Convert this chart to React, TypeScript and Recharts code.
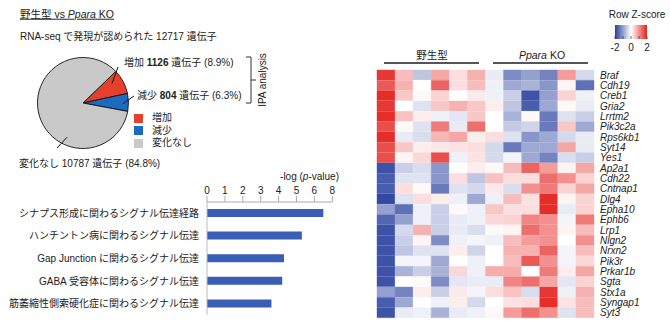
import React from "react";
import { BarChart, Bar, XAxis, YAxis, PieChart, Pie, Cell } from "recharts";

const FONT = '"Liberation Sans", Arial, "Noto Sans CJK JP", sans-serif';
const INK = "#222";

// pie: genes detected by RNA-seq
const pieLabels = ["増加", "減少", "変化なし"];
const pieCounts = [1126, 804, 10787];
const piePercents = ["8.9%", "6.3%", "84.8%"];
const pieColors = ["#e6402c", "#1d6bbf", "#c9c9c9"];

// bars: IPA pathways
const pathways = [
  "シナプス形成に関わるシグナル伝達経路",
  "ハンチントン病に関わるシグナル伝達",
  "Gap Junction に関わるシグナル伝達",
  "GABA 受容体に関わるシグナル伝達",
  "筋萎縮性側索硬化症に関わるシグナル伝達",
];
const pathwayLogP = [6.5, 5.3, 4.3, 4.2, 3.6];
const logPTicks = [0, 1, 2, 3, 4, 5, 6, 7];
const logPTickLabels = ["0", "1", "2", "3", "4", "5", "6", "8"];

// heatmap: row z-scores, 6 wild-type + 6 Ppara KO samples
const genes = [
  "Braf", "Cdh19", "Creb1", "Gria2", "Lrrtm2", "Pik3c2a", "Rps6kb1", "Syt14", "Yes1",
  "Ap2a1", "Cdh22", "Cntnap1", "Dlg4", "Epha10", "Ephb6", "Lrp1", "Nlgn2", "Nrxn2",
  "Pik3r", "Prkar1b", "Sgta", "Stx1a", "Syngap1", "Syt3",
];
const zScores: number[][] = [
  [1.8, 0.6, -0.6, 0.8, 0.3, 0.7, -0.2, -1.2, -1.0, -1.3, 0.9, -0.4],
  [1.5, 0.7, 0.0, 1.4, 0.3, 0.6, -0.15, -0.9, -0.8, -1.1, 0.1, -1.5],
  [1.9, 0.5, 0.05, 0.4, 0.0, 0.2, -0.15, -0.5, -1.8, -1.0, 0.4, -0.15],
  [1.8, 0.0, -0.3, 0.5, 0.7, 0.5, 0.15, -0.6, -1.7, -0.9, 0.05, -0.2],
  [1.9, 0.55, 0.15, -0.15, -0.25, 0.5, 0.0, -0.8, 0.05, -1.4, -0.3, -0.5],
  [1.6, 0.05, -0.3, 1.2, -0.2, 1.3, 0.0, -0.55, -0.45, -1.4, 0.5, -0.9],
  [1.9, -0.2, -0.35, 0.65, 0.8, 0.15, 0.3, -0.3, -1.1, -0.9, -0.4, -0.2],
  [1.6, 0.5, 0.15, 0.2, 0.25, 0.3, -0.4, -1.4, -0.9, -0.9, 0.8, -0.2],
  [1.6, 0.1, 0.35, 1.6, -0.15, 0.25, -0.4, -0.1, -0.9, -1.3, -0.35, -0.5],
  [-1.8, -0.5, -0.35, -1.1, 0.0, 0.15, 0.05, 0.6, 1.4, 0.9, 0.1, 0.8],
  [-1.7, -0.3, -0.3, -1.1, 0.3, -0.6, 0.55, 0.3, 0.3, 1.3, 1.0, 0.4],
  [-1.7, 0.3, 0.05, -1.4, -0.3, -0.4, 0.2, -0.35, 1.0, 1.2, 0.4, 0.8],
  [-1.9, -0.3, 0.3, 0.15, -0.15, -0.9, -0.15, 0.6, 0.25, 1.9, 0.1, 0.4],
  [-1.0, -1.5, -0.15, -0.5, 0.05, -0.15, 0.5, 0.3, 0.3, 1.9, -0.2, 0.4],
  [-1.6, -1.0, -0.15, -0.5, -0.2, -0.15, 0.35, 0.4, 1.1, 1.0, -0.1, 1.2],
  [-1.8, -0.4, 0.7, -0.5, -0.2, -0.35, 0.05, 0.1, 1.3, 1.0, 0.1, 0.6],
  [-1.8, -0.5, 0.1, -1.2, -0.15, -0.1, -0.15, 0.6, 0.9, 1.0, 0.0, 1.0],
  [-1.8, -0.6, -0.3, -0.3, 0.15, -0.45, 0.0, 0.7, 0.7, 1.4, -0.1, 0.6],
  [-1.8, -0.1, -0.1, -0.9, 0.0, -0.15, 0.0, 0.6, 1.5, 1.0, -0.1, 0.35],
  [-1.8, -0.8, -0.5, -0.8, 0.35, -0.15, 0.75, 0.75, 0.0, 1.2, 0.15, 0.8],
  [-1.8, 0.0, 0.05, -1.2, -0.25, -0.2, -0.2, 1.1, 1.3, 0.8, -0.25, 0.4],
  [-1.0, -1.3, 0.15, -0.5, 0.2, -0.1, 0.3, 0.55, -0.35, 1.8, -0.15, 0.7],
  [-1.7, -0.9, 0.0, -0.15, 0.15, -0.4, 0.0, 0.25, 0.3, 1.9, 0.25, 0.6],
  [-1.8, -0.2, -0.15, -0.8, -0.2, -0.15, 0.05, 0.9, 1.3, 1.0, -0.3, 0.6],
];
const sampleGroups = ["野生型", "Ppara KO"];
const zLegendTicks = ["-2", "0", "2"];

const Z_NEG = [40, 64, 158];
const Z_POS = [228, 34, 30];

function zColor(z: number) {
  const t = Math.max(-1, Math.min(1, z / 2));
  const end = t < 0 ? Z_NEG : Z_POS;
  const a = Math.abs(t);
  const c = end.map((e) => Math.round(255 + (e - 255) * a));
  return `rgb(${c.join(",")})`;
}

// leader lines / text positions for the pie callouts (chart coords)
const PIE_CALLOUTS = [
  { angle: 34, r: 0.77, ex: 118, ey: 27, tx: 124, ty: 22 },
  { angle: -1, r: 0.88, ex: 134, ey: 56, tx: 137, ty: 55 },
  { angle: -115, r: 0.83, ex: 57, ey: 108, tx: 19, ty: 123 },
];

function renderPieLabel(props: any) {
  const { cx, cy, outerRadius, index } = props;
  const c = PIE_CALLOUTS[index];
  const rad = (c.angle * Math.PI) / 180;
  const sx = cx + Math.cos(rad) * outerRadius * c.r;
  const sy = cy - Math.sin(rad) * outerRadius * c.r;
  return (
    <g key={`pl-${index}`}>
      <line x1={sx} y1={sy} x2={c.ex} y2={c.ey} stroke="#111" strokeWidth={1} />
      <text x={c.tx} y={c.ty} dominantBaseline="central" fontSize={10} fill={INK} fontFamily={FONT}>
        {pieLabels[index]} <tspan fontWeight={index < 2 ? "bold" : "normal"}>{pieCounts[index]}</tspan> 遺伝子 ({piePercents[index]})
      </text>
    </g>
  );
}

// plain svg ticks so recharts doesn't wrap on spaces
function PathwayTick({ x, y, payload }: any) {
  return (
    <text x={x} y={y} dy="0.35em" textAnchor="end" fontSize={10} fill={INK} fontFamily={FONT}>
      {payload.value}
    </text>
  );
}

function GeneTick({ x, y, payload }: any) {
  return (
    <text x={x} y={y} dy="0.35em" textAnchor="start" fontSize={10} fontStyle="italic" fill={INK} fontFamily={FONT}>
      {payload.value}
    </text>
  );
}

function Txt({ x, y, size = 10, anchor = "start", style, children }: any) {
  const shift = anchor === "middle" ? "-50%" : anchor === "end" ? "-100%" : "0";
  return (
    <div
      style={{
        position: "absolute",
        left: x,
        top: y,
        transform: `translate(${shift}, -50%)`,
        fontSize: size,
        lineHeight: 1.2,
        whiteSpace: "nowrap",
        color: INK,
        ...style,
      }}
    >
      {children}
    </div>
  );
}

export default function App() {
  const pieData = pieLabels.map((name, i) => ({ name, count: pieCounts[i] }));
  const barData = pathways.map((p, i) => ({ pathway: p, logP: pathwayLogP[i] }));
  const sampleKeys = zScores[0].map((_, j) => `s${j}`);
  const heatRows = genes.map((g) => {
    const row: Record<string, any> = { gene: g };
    sampleKeys.forEach((k) => (row[k] = 1));
    return row;
  });

  return (
    <div style={{ position: "absolute", left: 0, top: 0, width: 670, height: 330, background: "#fff", fontFamily: FONT, overflow: "hidden" }}>
      <Txt x={20} y={14} size={10.5} style={{ textDecoration: "underline" }}>
        野生型 vs <i>Ppara</i> KO
      </Txt>
      <Txt x={20} y={37} size={10}>RNA-seq で発現が認められた 12717 遺伝子</Txt>

      <div style={{ position: "absolute", left: 0, top: 40 }}>
        <PieChart width={260} height={135}>
          <Pie
            data={pieData}
            dataKey="count"
            nameKey="name"
            cx={78}
            cy={58}
            outerRadius={45.5}
            startAngle={44}
            endAngle={-316}
            stroke="#111"
            strokeWidth={0.9}
            label={renderPieLabel}
            labelLine={false}
            isAnimationActive={false}
          >
            {pieData.map((d, i) => (
              <Cell key={d.name} fill={pieColors[i]} />
            ))}
          </Pie>
        </PieChart>
      </div>

      {/* IPA bracket */}
      <svg style={{ position: "absolute", left: 240, top: 50 }} width={30} height={60}>
        <polyline points="6,7 11,7 11,53 6,53" fill="none" stroke="#333" strokeWidth={1} />
        <line x1={11} y1={30} x2={16} y2={30} stroke="#333" strokeWidth={1} />
      </svg>
      <Txt x={263} y={80} size={10} anchor="middle" style={{ transform: "translate(-50%, -50%) rotate(-90deg)" }}>
        IPA analysis
      </Txt>

      {/* pie legend */}
      {pieLabels.map((l, i) => (
        <React.Fragment key={l}>
          <div style={{ position: "absolute", left: 134, top: 113.5 + i * 12.5, width: 9, height: 9, background: pieColors[i] }} />
          <Txt x={152} y={118 + i * 12.5} size={10}>{l}</Txt>
        </React.Fragment>
      ))}

      {/* pathway bars */}
      <Txt x={339} y={177} size={10} anchor="end">
        -log (<i>p</i>-value)
      </Txt>
      <div style={{ position: "absolute", left: 0, top: 165 }}>
        <BarChart layout="vertical" width={345} height={160} data={barData} margin={{ top: 5, right: 12.7, bottom: 10, left: 0 }} barCategoryGap={0}>
          <XAxis
            type="number"
            orientation="top"
            domain={[0, 7]}
            ticks={logPTicks}
            tickFormatter={(v: number, i: number) => logPTickLabels[i]}
            height={32}
            stroke="#aaa"
            tick={{ fontSize: 10, fill: INK }}
            interval={0}
          />
          <YAxis
            type="category"
            dataKey="pathway"
            width={207}
            stroke="#bbb"
            tickLine={false}
            tick={<PathwayTick />}
            interval={0}
          />
          <Bar dataKey="logP" fill="#3a5db5" barSize={8} isAnimationActive={false} />
        </BarChart>
      </div>

      {/* heatmap headers */}
      <Txt x={432} y={55} size={10.5} anchor="middle">{sampleGroups[0]}</Txt>
      <Txt x={542} y={55} size={10.5} anchor="middle">
        <i>Ppara</i> KO
      </Txt>
      <div style={{ position: "absolute", left: 384, top: 62, width: 95, height: 2, background: "#555" }} />
      <div style={{ position: "absolute", left: 493, top: 62, width: 95, height: 2, background: "#555" }} />

      {/* z-score legend */}
      <Txt x={637} y={15} size={10} anchor="middle">Row Z-score</Txt>
      <svg style={{ position: "absolute", left: 612, top: 23 }} width={40} height={20}>
        <defs>
          <linearGradient id="zgrad" x1="0" x2="1" y1="0" y2="0">
            <stop offset="0" stopColor={zColor(-2)} />
            <stop offset="0.5" stopColor={zColor(0)} />
            <stop offset="1" stopColor={zColor(2)} />
          </linearGradient>
        </defs>
        <rect x={3} y={2} width={32} height={14} fill="url(#zgrad)" />
        {[0, 1, 2, 3, 4].map((k) => (
          <line key={k} x1={3 + k * 8} x2={3 + k * 8} y1={13} y2={16} stroke="#333" strokeWidth={0.7} />
        ))}
      </svg>
      {zLegendTicks.map((t, i) => (
        <Txt key={t} x={615 + i * 16} y={48} size={10} anchor="middle">{t}</Txt>
      ))}

      <div style={{ position: "absolute", left: 370, top: 60 }}>
        <BarChart layout="vertical" width={300} height={270} data={heatRows} margin={{ top: 10, right: 6, bottom: 12, left: 7 }} barCategoryGap={0}>
          <XAxis type="number" hide domain={[0, 12]} />
          <YAxis
            type="category"
            dataKey="gene"
            orientation="right"
            width={70}
            axisLine={false}
            tickLine={false}
            tickSize={4}
            tick={<GeneTick />}
            interval={0}
          />
          {sampleKeys.map((k, j) => (
            <Bar key={k} dataKey={k} stackId="z" isAnimationActive={false}>
              {zScores.map((row, i) => (
                <Cell key={genes[i]} fill={zColor(row[j])} stroke={zColor(row[j])} strokeWidth={0.4} />
              ))}
            </Bar>
          ))}
        </BarChart>
      </div>
    </div>
  );
}
